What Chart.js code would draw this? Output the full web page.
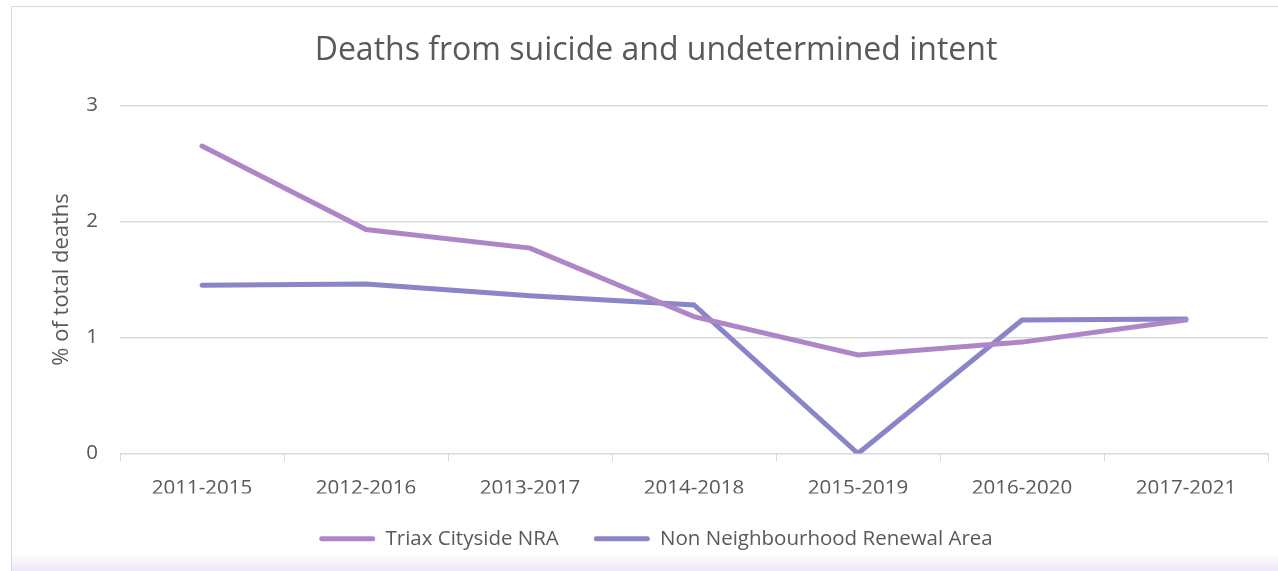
<!DOCTYPE html>
<html>
<head>
<meta charset="utf-8">
<script src="https://cdn.jsdelivr.net/npm/chart.js@4"></script>
<style>
  html, body { margin: 0; padding: 0; background: #fff; overflow: hidden; }
  body { width: 1278px; height: 571px; position: relative; }
  .frame {
    position: absolute; left: 11px; top: 6px; width: 1300px; height: 580px;
    border: 1.5px solid #d9d9d9; box-sizing: border-box;
    background: linear-gradient(to bottom, #fff 0, #fff 545px, #ede6f7 565px);
  }
  .wrap { position: absolute; left: 11px; top: 6px; width: 1290px; height: 600px; }
</style>
</head>
<body>
<div class="frame"></div>
<div class="wrap"><canvas id="chart"></canvas></div>
<script>
const periods = ['2011-2015', '2012-2016', '2013-2017', '2014-2018', '2015-2019', '2016-2020', '2017-2021'];
const triaxValues = [2.65, 1.93, 1.77, 1.18, 0.85, 0.96, 1.15];
const nonNraValues = [1.45, 1.46, 1.36, 1.28, 0, 1.15, 1.16];
const yTicks = [0, 1, 2, 3];

const textColor = '#595959';
const gridColor = '#d9d9d9';
const fontFamily = '"Open Sans", "Noto Sans", sans-serif';

const ctx = document.getElementById('chart').getContext('2d');
new Chart(ctx, {
  type: 'line',
  data: {
    labels: periods,
    datasets: [
      {
        label: 'Triax Cityside NRA',
        data: triaxValues,
        borderColor: '#ae86c7',
        backgroundColor: '#ae86c7',
        borderWidth: 5,
        pointRadius: 0,
        borderCapStyle: 'round',
        tension: 0,
      },
      {
        label: 'Non Neighbourhood Renewal Area',
        data: nonNraValues,
        borderColor: '#8985c8',
        backgroundColor: '#8985c8',
        borderWidth: 5,
        pointRadius: 0,
        borderCapStyle: 'round',
        tension: 0,
      },
    ],
  },
  options: {
    responsive: true,
    maintainAspectRatio: false,
    animation: false,
    layout: { padding: { left: 33, right: 33, top: 0, bottom: 47 } },
    plugins: {
      title: {
        display: true,
        text: 'Deaths from suicide and undetermined intent',
        color: textColor,
        font: { family: fontFamily, size: 32, weight: 'normal' },
        padding: { top: 26, bottom: 35 },
      },
      legend: {
        position: 'bottom',
        labels: {
          color: textColor,
          font: { family: fontFamily, size: 20.5 },
          boxWidth: 56,
          boxHeight: 5,
          useBorderRadius: true,
          borderRadius: 2.5,
          padding: 35,
          generateLabels: (chart) => Chart.defaults.plugins.legend.labels.generateLabels(chart).map((item) => ({
            ...item,
            lineWidth: 0,
            strokeStyle: 'rgba(0,0,0,0)',
          })),
        },
      },
      tooltip: { enabled: false },
    },
    scales: {
      x: {
        offset: true,
        afterFit: (scale) => { scale.height = 40; },
        grid: {
          offset: true,
          drawOnChartArea: false,
          drawTicks: true,
          tickLength: 8,
          color: gridColor,
        },
        border: { display: true, color: gridColor },
        ticks: {
          color: textColor,
          font: { family: fontFamily, size: 20.5 },
          padding: 14,
          maxRotation: 0,
        },
      },
      y: {
        min: 0,
        max: 3,
        afterFit: (scale) => { scale.width = 76; },
        afterBuildTicks: (scale) => { scale.ticks = yTicks.map((v) => ({ value: v })); },
        grid: { color: gridColor, drawTicks: false, lineWidth: 1.5 },
        border: { display: false },
        ticks: {
          color: textColor,
          font: { family: fontFamily, size: 20.5 },
          padding: 22,
        },
        title: {
          display: true,
          text: '% of total deaths',
          color: textColor,
          font: { family: fontFamily, size: 22 },
          padding: { top: 5, bottom: 0 },
        },
      },
    },
  },
});
</script>
</body>
</html>
